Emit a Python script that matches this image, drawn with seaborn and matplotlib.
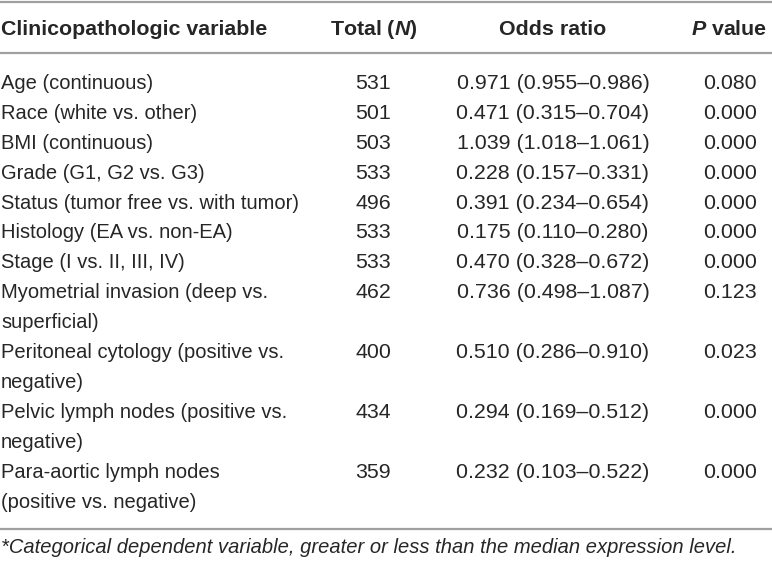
import matplotlib
matplotlib.use("Agg")
import matplotlib.pyplot as plt
import seaborn as sns

# ---- data ----
variables = [
    "Age (continuous)",
    "Race (white vs. other)",
    "BMI (continuous)",
    "Grade (G1, G2 vs. G3)",
    "Status (tumor free vs. with tumor)",
    "Histology (EA vs. non-EA)",
    "Stage (I vs. II, III, IV)",
    "Myometrial invasion (deep vs.\nsuperficial)",
    "Peritoneal cytology (positive vs.\nnegative)",
    "Pelvic lymph nodes (positive vs.\nnegative)",
    "Para-aortic lymph nodes\n(positive vs. negative)",
]
totals = [531, 501, 503, 533, 496, 533, 533, 462, 400, 434, 359]
odds = [0.971, 0.471, 1.039, 0.228, 0.391, 0.175, 0.470, 0.736, 0.510, 0.294, 0.232]
ci_low = [0.955, 0.315, 1.018, 0.157, 0.234, 0.110, 0.328, 0.498, 0.286, 0.169, 0.103]
ci_high = [0.986, 0.704, 1.061, 0.331, 0.654, 0.280, 0.672, 1.087, 0.910, 0.512, 0.522]
p_values = [0.080, 0.000, 0.000, 0.000, 0.000, 0.000, 0.000, 0.123, 0.023, 0.000, 0.000]
footnote = "*Categorical dependent variable, greater or less than the median expression level."

sns.set_theme(style="white")
plt.rcParams["font.family"] = ["Liberation Sans", "DejaVu Sans"]
plt.rcParams["mathtext.fontset"] = "custom"
plt.rcParams["mathtext.bfit"] = "Liberation Sans:bold:italic"

W, H = 772, 562
fig = plt.figure(figsize=(W / 100, H / 100), dpi=100)
ax = fig.add_axes([0, 0, 1, 1])
ax.set_xlim(0, W)
ax.set_ylim(H, 0)
ax.axis("off")

txt = "#262626"
line_c = "#a0a0a0"
fs = 14.5
nfs = 15.4
hfs = 15.4

x_var = 1
x_tot = 373
x_or = 553
x_p = 730

# rules
for y in (2, 53, 529):
    ax.axhline(y, color=line_c, lw=1.6)

# header
hy = 35
ax.text(x_var, hy, "Clinicopathologic variable", fontsize=hfs, fontweight="bold",
        color=txt, va="baseline", ha="left")
ax.text(374, hy, r"Total ($\mathbfit{N}$)", fontsize=hfs, fontweight="bold",
        color=txt, va="baseline", ha="center")
ax.text(x_or, hy, "Odds ratio", fontsize=hfs, fontweight="bold",
        color=txt, va="baseline", ha="center")
ax.text(729, hy, r"$\mathbfit{P}$ value", fontsize=hfs, fontweight="bold",
        color=txt, va="baseline", ha="center")

y0 = 89
step = 29.9
line_idx = 0
for name, n, o, lo, hi, p in zip(variables, totals, odds, ci_low, ci_high, p_values):
    y = y0 + line_idx * step
    parts = name.split("\n")
    for k, part in enumerate(parts):
        ax.text(x_var, y + k * step, part, fontsize=fs, color=txt,
                va="baseline", ha="left")
    ax.text(x_tot, y, f"{n}", fontsize=nfs, color=txt, va="baseline", ha="center")
    ax.text(x_or, y, f"{o:.3f} ({lo:.3f}\u2013{hi:.3f})", fontsize=nfs, color=txt,
            va="baseline", ha="center")
    ax.text(x_p, y, f"{p:.3f}", fontsize=nfs, color=txt, va="baseline", ha="center")
    line_idx += len(parts)

ax.text(x_var, 553, footnote, fontsize=fs, style="italic", color=txt,
        va="baseline", ha="left")

fig.savefig("out.png", dpi=100, facecolor="white")
